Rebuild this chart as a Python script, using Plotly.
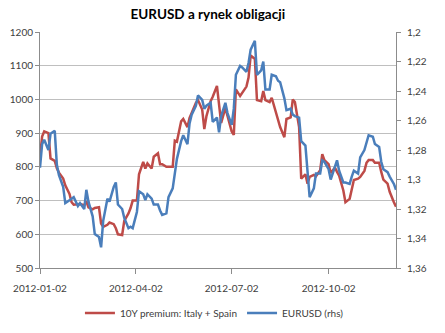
import pandas as pd
import plotly.graph_objects as go

# every second business day, 2012-01-02 .. 2012-12-05
dates = pd.bdate_range("2012-01-02", "2012-12-05")[::2]

premium = [
    830, 890, 905, 900, 825, 818, 796, 783, 765, 745,
    720, 695, 688, 690, 690, 686, 698, 680, 674, 678,
    680, 632, 622, 628, 635, 630, 618, 600, 598, 640,
    662, 678, 700, 700, 778, 815, 795, 810, 795, 830,
    840, 808, 808, 800, 800, 800, 878, 875, 935, 942,
    918, 945, 960, 990, 998, 970, 912, 950, 995, 1008,
    1040, 975, 930, 975, 950, 905, 895, 1030, 1010, 1020,
    1038, 1065, 1130, 1120, 998, 995, 1025, 998, 992, 1005,
    965, 940, 918, 888, 942, 947, 1000, 992, 918, 765,
    778, 750, 770, 776, 772, 790, 838, 820, 808, 782,
    798, 785, 774, 730, 695, 705, 737, 761, 765, 770,
    788, 812, 820, 820, 812, 812, 785, 762, 750, 726,
    695, 682,
]

eurusd = [
    1.292, 1.276, 1.273, 1.280, 1.269, 1.267, 1.290, 1.297, 1.305, 1.316,
    1.314, 1.313, 1.312, 1.318, 1.316, 1.320, 1.307, 1.315, 1.325, 1.337,
    1.339, 1.346, 1.328, 1.313, 1.315, 1.305, 1.302, 1.317, 1.320, 1.326,
    1.333, 1.332, 1.333, 1.322, 1.308, 1.310, 1.314, 1.310, 1.313, 1.317,
    1.317, 1.321, 1.324, 1.323, 1.312, 1.306, 1.297, 1.286, 1.274, 1.270,
    1.276, 1.262, 1.256, 1.250, 1.243, 1.246, 1.252, 1.250, 1.248, 1.261,
    1.258, 1.268, 1.257, 1.248, 1.255, 1.263, 1.252, 1.229, 1.223, 1.224,
    1.227, 1.221, 1.212, 1.206, 1.229, 1.226, 1.220, 1.239, 1.239, 1.229,
    1.230, 1.233, 1.234, 1.245, 1.253, 1.252, 1.256, 1.257, 1.258, 1.274,
    1.277, 1.296, 1.312, 1.306, 1.296, 1.296, 1.287, 1.288, 1.293, 1.300,
    1.291, 1.287, 1.294, 1.302, 1.302, 1.303, 1.298, 1.294, 1.296, 1.285,
    1.280, 1.275, 1.270, 1.271, 1.276, 1.278, 1.288, 1.293, 1.295, 1.298,
    1.303, 1.307,
]

x_ticks = ["2012-01-02", "2012-04-02", "2012-07-02", "2012-10-02"]

RED = "#BE4B48"
BLUE = "#4A7EBB"
GRID = "#BFBFBF"
AXIS = "#8C8C8C"
TXT = "#404040"
FONT = "Lato, Carlito, Calibri, sans-serif"

fig = go.Figure()
fig.add_trace(go.Scatter(
    x=dates[:len(premium)], y=premium, name="10Y premium: Italy + Spain",
    mode="lines", line=dict(color=RED, width=2.5)))
fig.add_trace(go.Scatter(
    x=dates[:len(eurusd)], y=eurusd, name="EURUSD (rhs)", yaxis="y2",
    mode="lines", line=dict(color=BLUE, width=2.5)))

fig.update_layout(
    width=445, height=333,
    margin=dict(l=40, r=49, t=32, b=65, autoexpand=False),
    paper_bgcolor="white", plot_bgcolor="white",
    separators=", ",
    font=dict(family=FONT, size=10, color=TXT),
    title=dict(text="<b>EURUSD a rynek obligacji</b>", x=0.467, xanchor="center",
               y=0.958, yanchor="middle", yref="container",
               font=dict(family=FONT, size=13.5, color="black")),
    xaxis=dict(type="date", range=[dates[0], dates[-1]], tickvals=x_ticks,
               tickformat="%Y-%m-%d", ticks="outside", ticklen=5, tickcolor=AXIS,
               showline=True, linecolor=AXIS, linewidth=1, showgrid=False,
               zeroline=False, ticklabelstandoff=6, automargin=False,
               tickfont=dict(size=10, color=TXT)),
    yaxis=dict(range=[500, 1200], dtick=100, tick0=500, showgrid=True,
               gridcolor=GRID, gridwidth=1, showline=True, linecolor=AXIS,
               ticks="outside", ticklen=4, tickcolor=AXIS, zeroline=False,
               automargin=False, tickfont=dict(size=10, color=TXT)),
    yaxis2=dict(overlaying="y", side="right", range=[1.36, 1.2], dtick=0.02,
                tick0=1.2, showgrid=False, showline=True, linecolor=AXIS,
                ticks="outside", ticklen=4, tickcolor=AXIS, zeroline=False,
                automargin=False, ticklabelstandoff=4,
                tickfont=dict(size=10, color=TXT)),
    legend=dict(orientation="h", x=0.49, xanchor="center", y=0.06,
                yref="container", yanchor="middle",
                font=dict(size=10, color=TXT), bgcolor="rgba(0,0,0,0)"),
    showlegend=True,
)

fig.write_html("out.html")
